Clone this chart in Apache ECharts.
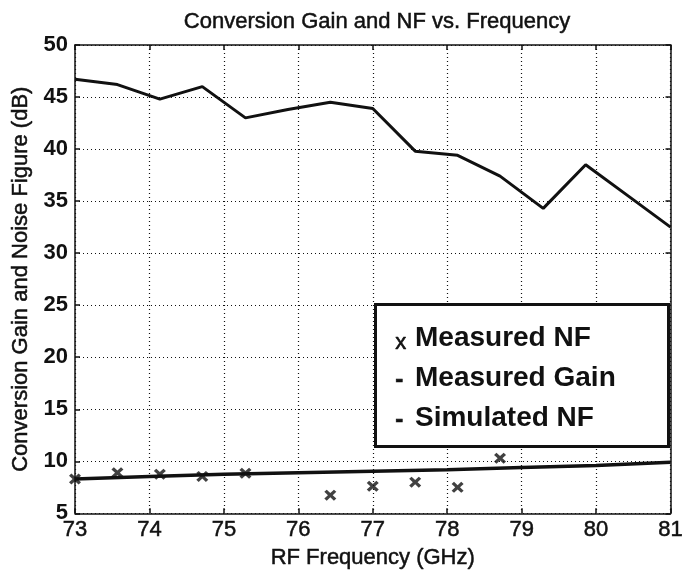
<!DOCTYPE html>
<html>
<head>
<meta charset="utf-8">
<script src="https://cdn.jsdelivr.net/npm/echarts@6/dist/echarts.min.js"></script>
<style>
html,body{margin:0;padding:0;background:#fff;}
#chart{width:686px;height:574px;}
</style>
</head>
<body>
<div id="chart"></div>
<script>
// Measured conversion gain (dB)
var gainFreq = [73, 73.57, 74.14, 74.71, 75.29, 75.86, 76.43, 77, 77.57, 78.14, 78.71, 79.29, 79.86, 80.43, 81];
var gainVals = [46.7, 46.2, 44.8, 46.0, 43.0, 43.8, 44.5, 43.9, 39.8, 39.4, 37.4, 34.3, 38.5, 35.5, 32.5];
// Measured NF (dB)
var nfFreq = [73, 73.57, 74.14, 74.71, 75.29, 76.43, 77, 77.57, 78.14, 78.71];
var nfVals = [8.3, 8.9, 8.75, 8.55, 8.85, 6.75, 7.6, 8.0, 7.5, 10.3];
// Simulated NF (dB)
var simFreq = [73, 74, 75, 76, 77, 78, 79, 80, 81];
var simVals = [8.3, 8.55, 8.75, 8.9, 9.05, 9.2, 9.4, 9.6, 9.9];

var legendLines = ['Measured NF', 'Measured Gain', 'Simulated NF'];
var legendMarks = ['x', '-', '-'];

function pairs(xs, ys) { return xs.map(function (x, i) { return [x, ys[i]]; }); }

var FONT = 'Liberation Sans, Arial, sans-serif';
var INK = '#111';
var chart = echarts.init(document.getElementById('chart'));

var xMark = 'path://M0,2L2,0L5,3L8,0L10,2L7,5L10,8L8,10L5,7L2,10L0,8L3,5Z';

var legendGraphics = [{
  type: 'rect', left: 374, top: 303,
  shape: { width: 293, height: 142 },
  style: { fill: '#fff', stroke: INK, lineWidth: 3 }, z: 100
}];
legendLines.forEach(function (t, i) {
  legendGraphics.push({
    type: 'text', left: 395, top: 328 + i * 40 + (i === 0 ? 4 : 0),
    style: { text: legendMarks[i], font: (i === 0 ? 'normal 22px ' : 'bold 24px ') + FONT, fill: INK,
             stroke: INK, lineWidth: 0.6 }, z: 101
  });
  legendGraphics.push({
    type: 'text', left: 415, top: 324 + i * 40,
    style: { text: t, font: 'bold 28px ' + FONT, fill: INK }, z: 101
  });
});

var heavy = { textBorderColor: INK, textBorderWidth: 0.5 };
var gridLine = { show: true, lineStyle: { color: INK, type: [1, 3], width: 1.2 } };
var axisLine = { show: true, lineStyle: { color: INK, width: 1.5 } };

chart.setOption({
  backgroundColor: '#fff',
  animation: false,
  title: {
    text: 'Conversion Gain and NF vs. Frequency',
    left: 372, top: 6, textAlign: 'center',
    textStyle: Object.assign({ fontFamily: FONT, fontSize: 22, fontWeight: 'normal', color: INK }, heavy)
  },
  grid: { left: 75, right: 13, top: 45, bottom: 58 },
  xAxis: [{
    type: 'value', min: 73, max: 81, interval: 1,
    name: 'RF Frequency (GHz)', nameLocation: 'middle', nameGap: 30,
    nameTextStyle: Object.assign({ fontFamily: FONT, fontSize: 22, color: INK }, heavy),
    axisLine: axisLine,
    axisTick: { show: true, inside: true, length: 5, lineStyle: { color: INK, width: 1.5 } },
    axisLabel: Object.assign({ fontFamily: FONT, fontSize: 22, color: INK, margin: 6 }, heavy),
    splitLine: gridLine
  }, {
    type: 'value', position: 'top', min: 73, max: 81, interval: 1,
    axisLine: axisLine,
    axisTick: { show: true, inside: true, length: 5, lineStyle: { color: INK, width: 1.5 } },
    axisLabel: { show: false }, splitLine: { show: false }
  }],
  yAxis: [{
    type: 'value', min: 5, max: 50, interval: 5,
    name: 'Conversion Gain and Noise Figure (dB)', nameLocation: 'middle', nameGap: 40,
    nameTextStyle: Object.assign({ fontFamily: FONT, fontSize: 22, color: INK }, heavy),
    axisLine: axisLine,
    axisTick: { show: true, inside: true, length: 5, lineStyle: { color: INK, width: 1.5 } },
    axisLabel: { fontFamily: FONT, fontSize: 22, fontWeight: 'bold', color: INK, margin: 7 },
    splitLine: gridLine
  }, {
    type: 'value', position: 'right', min: 5, max: 50, interval: 5,
    axisLine: axisLine,
    axisTick: { show: true, inside: true, length: 5, lineStyle: { color: INK, width: 1.5 } },
    axisLabel: { show: false }, splitLine: { show: false }
  }],
  series: [{
    name: 'Measured Gain', type: 'line', data: pairs(gainFreq, gainVals),
    symbol: 'none', lineStyle: { color: INK, width: 3 }, z: 5
  }, {
    name: 'Simulated NF', type: 'line', data: pairs(simFreq, simVals),
    symbol: 'none', lineStyle: { color: INK, width: 3.5 }, z: 5
  }, {
    name: 'Measured NF', type: 'scatter', data: pairs(nfFreq, nfVals),
    symbol: xMark, symbolSize: [12, 11], itemStyle: { color: INK }, z: 6
  }],
  graphic: legendGraphics
});
</script>
</body>
</html>
